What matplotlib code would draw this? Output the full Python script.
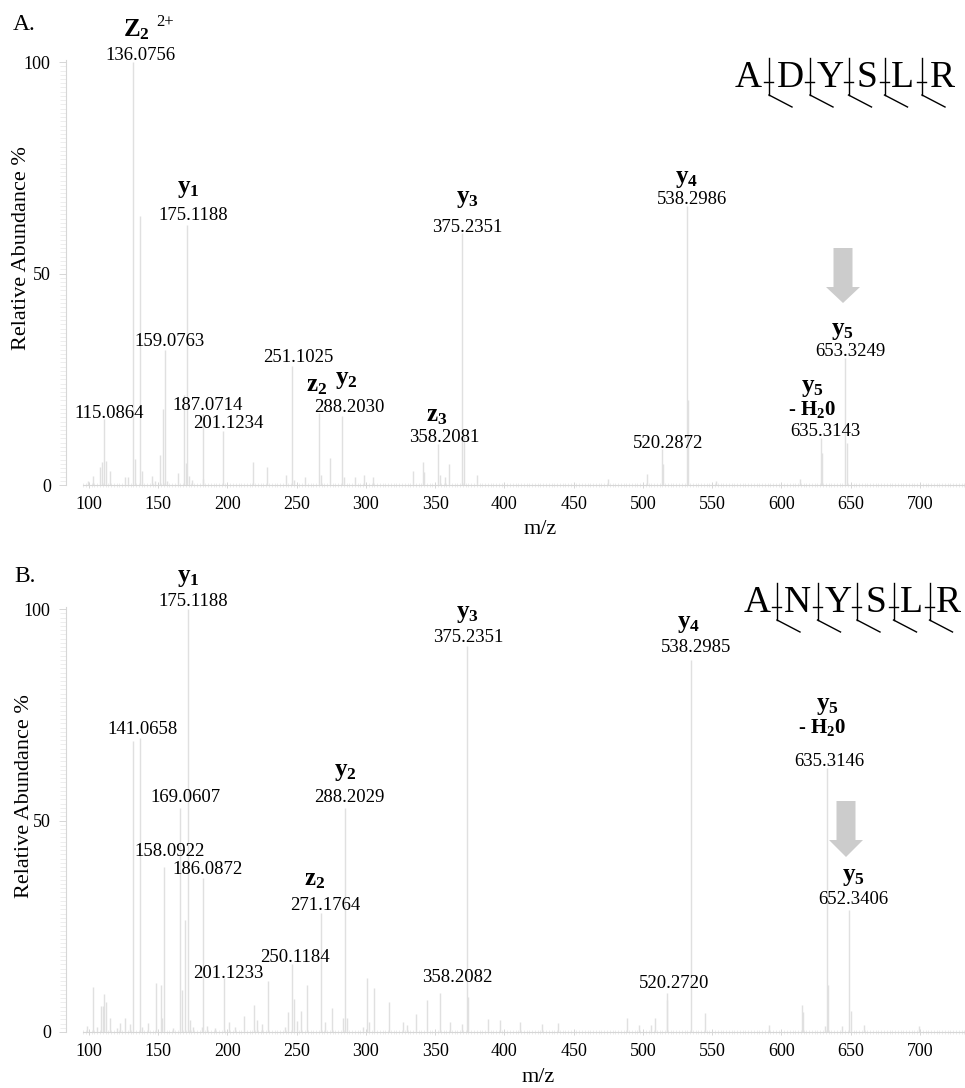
import numpy as np
import matplotlib
matplotlib.use("Agg")
import matplotlib.pyplot as plt
from matplotlib.patches import Polygon
from matplotlib.lines import Line2D

plt.rcParams['font.family'] = 'Liberation Serif'
plt.rcParams['mathtext.fontset'] = 'custom'
plt.rcParams['mathtext.rm'] = 'Liberation Serif'
plt.rcParams['mathtext.bf'] = 'Liberation Serif:bold'
plt.rcParams['mathtext.it'] = 'Liberation Serif:italic'

# ---- spectrum A (ADYSLR): peak positions as drawn on the m/z axis, relative abundance %
mz_a = [99.5, 103.1, 108.0, 109.6, 110.8, 112.3, 115.2, 126.0, 128.4, 132.1, 133.2, 136.8,
        138.0, 145.3, 147.7, 151.3, 153.7, 154.9, 156.0, 164.5, 168.8, 169.8, 171.0, 172.4,
        174.2, 182.1, 182.5, 196.5, 218.2, 228.3, 242.2, 246.8, 248.0, 256.0, 266.3, 267.3,
        274.0, 282.7, 284.0, 292.0, 298.6, 304.8, 334.0, 341.0, 342.0, 352.0, 353.4, 357.0,
        360.0, 369.3, 370.8, 380.0, 474.7, 502.6, 513.8, 514.7, 531.8, 532.5, 552.7, 613.4,
        628.4, 629.6, 645.8, 647.0]
int_a = [1.0, 2.2, 4.3, 5.4, 15.6, 5.6, 3.2, 1.8, 1.8, 100.0, 6.1, 63.5,
         3.2, 2.2, 1.0, 7.2, 18.0, 32.0, 1.0, 2.8, 21.4, 5.2, 61.6, 2.2,
         1.2, 1.4, 16.8, 12.8, 5.5, 4.2, 2.4, 28.2, 1.2, 2.0, 17.0, 2.4,
         6.4, 16.4, 2.0, 2.0, 2.4, 2.0, 3.3, 5.5, 3.0, 9.7, 2.4, 2.0,
         5.0, 59.7, 11.8, 2.4, 1.5, 2.5, 8.5, 5.0, 66.0, 20.0, 1.0, 1.5,
         11.0, 7.5, 30.0, 10.0]

# ---- spectrum B (ANYSLR)
mz_b = [98.3, 103.1, 105.5, 108.7, 109.9, 111.1, 112.3, 115.2, 120.0, 122.4, 126.0, 129.6,
        132.0, 136.8, 138.0, 142.8, 148.1, 151.8, 152.9, 154.4, 160.9, 165.7, 166.9, 169.3,
        171.7, 172.9, 174.9, 181.4, 182.5, 185.0, 191.0, 197.5, 201.3, 205.4, 212.1, 219.1,
        221.1, 224.7, 229.0, 241.5, 243.9, 246.4, 248.0, 250.0, 253.1, 257.6, 267.3, 270.4,
        275.2, 283.6, 284.8, 286.0, 297.6, 301.0, 302.4, 305.8, 316.8, 327.0, 329.4, 336.1,
        343.8, 353.4, 361.0, 369.0, 372.7, 373.5, 388.0, 397.0, 411.0, 427.0, 438.6, 488.3,
        497.4, 505.5, 508.7, 517.0, 517.6, 535.0, 545.0, 590.7, 614.6, 615.3, 631.5, 633.0,
        633.6, 643.5, 649.0, 650.0, 659.8, 699.6]
int_b = [1.5, 10.6, 1.3, 6.1, 6.2, 9.0, 7.0, 3.2, 1.0, 2.1, 3.2, 2.0,
         68.7, 69.6, 1.3, 2.1, 11.6, 11.0, 3.3, 38.9, 1.0, 53.0, 10.0, 26.6,
         100.0, 2.9, 1.3, 1.1, 36.5, 1.5, 1.0, 12.8, 2.3, 1.1, 3.7, 6.3,
         2.8, 2.0, 12.0, 1.1, 4.7, 16.0, 7.7, 2.5, 4.9, 11.2, 28.2, 2.3,
         5.7, 3.3, 53.0, 3.3, 1.3, 12.8, 2.3, 10.3, 7.0, 2.3, 1.7, 4.3,
         7.5, 9.2, 2.4, 2.0, 91.3, 8.3, 3.0, 2.8, 2.4, 2.0, 2.2, 3.3,
         1.6, 1.6, 3.3, 9.2, 7.5, 88.0, 4.5, 1.6, 6.4, 4.7, 1.5, 62.5,
         11.0, 1.5, 28.8, 5.0, 1.6, 1.5]

# ---- annotations
ions_a = [r'$\mathbf{Z}_{\mathbf{2}}$', r'$\mathbf{y}_{\mathbf{1}}$', r'$\mathbf{z}_{\mathbf{2}}$',
          r'$\mathbf{y}_{\mathbf{2}}$', r'$\mathbf{z}_{\mathbf{3}}$', r'$\mathbf{y}_{\mathbf{3}}$',
          r'$\mathbf{y}_{\mathbf{4}}$', r'$\mathbf{y}_{\mathbf{5}}$', r'$\mathbf{y}_{\mathbf{5}}$']
ion_pos_a = [(136, 30), (188, 189), (317, 386), (346, 380), (437, 416), (467, 199),
             (687, 179), (842, 331), (812, 388)]
nums_a = ['136.0756', '175.1188', '159.0763', '115.0864', '187.0714', '201.1234', '251.1025',
          '288.2030', '358.2081', '375.2351', '538.2986', '520.2872', '653.3249', '635.3143']
num_pos_a = [(140, 55), (193, 216), (170, 341), (109, 413), (208, 406), (228, 424), (298, 358),
             (349, 407), (444, 437), (467, 227), (692, 200), (668, 443), (850, 352), (825, 431)]

ions_b = [r'$\mathbf{y}_{\mathbf{1}}$', r'$\mathbf{z}_{\mathbf{2}}$', r'$\mathbf{y}_{\mathbf{2}}$',
          r'$\mathbf{y}_{\mathbf{3}}$', r'$\mathbf{y}_{\mathbf{4}}$', r'$\mathbf{y}_{\mathbf{5}}$',
          r'$\mathbf{y}_{\mathbf{5}}$']
ion_pos_b = [(188, 578), (315, 880), (345, 772), (467, 614), (689, 624), (827, 706), (853, 877)]
nums_b = ['175.1188', '141.0658', '169.0607', '158.0922', '186.0872', '271.1764', '250.1184',
          '201.1233', '288.2029', '375.2351', '538.2985', '635.3146', '652.3406', '358.2082',
          '520.2720']
num_pos_b = [(193, 602), (143, 730), (185, 797), (170, 852), (208, 870), (325, 906), (295, 957),
             (228, 973), (349, 797), (468, 638), (696, 648), (829, 761), (853, 900), (457, 977),
             (674, 983)]

peptide_a = ['A', 'D', 'Y', 'S', 'L', 'R']
peptide_b = ['A', 'N', 'Y', 'S', 'L', 'R']

W, H = 965, 1088
fig = plt.figure(figsize=(W / 100, H / 100), dpi=100)


def fx(x):
    return x / W


def fy(y):
    return 1 - y / H


def put(x, y, s, **kw):
    kw.setdefault('ha', 'center')
    kw.setdefault('va', 'center')
    fig.text(fx(x), fy(y), s, **kw)


def make_axes(top_px, bottom_px, mz, inten):
    ax = fig.add_axes([fx(83), fy(bottom_px), 882 / W, (bottom_px - top_px) / H])
    ax.vlines(mz, 0, inten, color='#e0e0e0', lw=1.0)
    ax.set_xlim(95.7, 732.5)
    ax.set_ylim(0, 100.5)
    for s in ['top', 'right']:
        ax.spines[s].set_visible(False)
    for s in ['left', 'bottom']:
        ax.spines[s].set_color('#d6d6d6')
        ax.spines[s].set_linewidth(0.8)
    ax.spines['left'].set_position(('outward', 12.2))
    ax.set_xticks(np.arange(100, 701, 50))
    ax.set_xticks(np.arange(96, 733, 2), minor=True)
    ax.set_yticks([0, 50, 100])
    ax.set_yticks(np.arange(0, 101, 1), minor=True)
    ax.tick_params(axis='x', which='major', direction='inout', length=4, width=0.6,
                   color='#d0d0d0', labelsize=13, pad=6)
    ax.tick_params(axis='x', which='minor', direction='inout', length=2.5, width=0.4,
                   color='#dedede')
    ax.tick_params(axis='y', which='major', direction='out', length=5, width=0.6,
                   color='#d0d0d0', labelsize=13, pad=6)
    ax.tick_params(axis='y', which='minor', direction='out', length=4, width=0.4,
                   color='#e2e2e2')
    ax.patch.set_alpha(0)
    return ax


ax_a = make_axes(60, 485, mz_a, int_a)
ax_b = make_axes(607, 1032, mz_b, int_b)

# panel letters and axis titles
put(24, 25, 'A.', fontsize=17)
put(25, 577, 'B.', fontsize=17)
put(22, 248, 'Relative Abundance %', fontsize=16, rotation=90)
put(25, 796, 'Relative Abundance %', fontsize=16, rotation=90)
put(540, 529, 'm/z', fontsize=16)
put(538, 1077, 'm/z', fontsize=16)

# annotations
for s, (x, y) in zip(ions_a, ion_pos_a):
    put(x, y, s, fontsize=18 if s[11] != 'Z' else 17)
for s, (x, y) in zip(nums_a, num_pos_a):
    put(x, y, s, fontsize=13.5)
put(165, 22, '2+', fontsize=12)
put(812, 410, r'- $\mathbf{H}_{\mathbf{2}}\mathbf{0}$', fontsize=15, fontweight='bold')

for s, (x, y) in zip(ions_b, ion_pos_b):
    put(x, y, s, fontsize=18)
for s, (x, y) in zip(nums_b, num_pos_b):
    put(x, y, s, fontsize=13.5)
put(822, 728, r'- $\mathbf{H}_{\mathbf{2}}\mathbf{0}$', fontsize=15, fontweight='bold')


# grey arrows pointing at the y5 ions
def arrow(xc, y0, yh, y1):
    pts = [(xc - 9.5, y0), (xc + 9.5, y0), (xc + 9.5, yh), (xc + 17, yh), (xc, y1),
           (xc - 17, yh), (xc - 9.5, yh)]
    fig.patches.append(Polygon([(fx(px), fy(py)) for px, py in pts], closed=True,
                               transform=fig.transFigure, facecolor='#cccccc',
                               edgecolor='none'))


arrow(843, 248, 287, 303)
arrow(846, 801, 840, 857)


# peptide sequences with fragmentation marks
def peptide(letters, xs, yc):
    for ch, x in zip(letters, xs):
        put(x, yc, ch, fontsize=27)
    for i in range(len(xs) - 1):
        xm = (xs[i] + xs[i + 1]) / 2
        segs = [[(xm, yc - 20), (xm, yc + 17)], [(xm - 5, yc + 4), (xm + 4, yc + 4)],
                [(xm, yc + 17), (xm + 23, yc + 29)]]
        for seg in segs:
            fig.lines.append(Line2D([fx(p[0]) for p in seg], [fy(p[1]) for p in seg],
                                    transform=fig.transFigure, color='black', lw=1.0))


peptide(peptide_a, [748, 790, 830, 867, 902, 942], 78)
peptide(peptide_b, [757, 797, 838, 876, 911, 948], 603)

fig.savefig('out.png', dpi=100)
